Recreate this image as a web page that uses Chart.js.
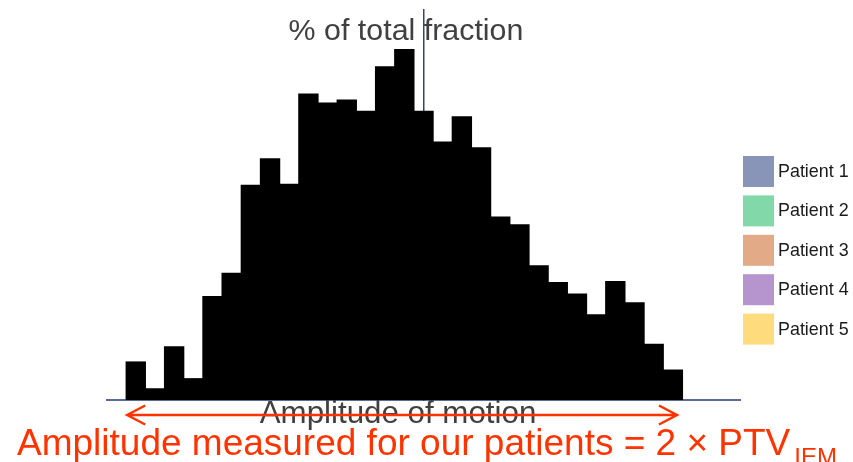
<!DOCTYPE html>
<html>
<head>
<meta charset="utf-8">
<script src="https://cdn.jsdelivr.net/npm/chart.js@4.4.1/dist/chart.umd.min.js"></script>
<style>
html,body{margin:0;padding:0;background:#ffffff;overflow:hidden;}
#c{display:block;}
</style>
</head>
<body>
<canvas id="c" width="853" height="462"></canvas>
<script>
// ---- data ----
const binLabels = ['0','1','2','3','4','5','6','7','8','9','10','11','12','13','14','15','16',
                   '17','18','19','20','21','22','23','24','25','26','27','28','29','30','31','32'];
const totalFraction = [null,
  0.75, 0.22, 1.05, 0.42, 2.04, 2.50, 4.24, 4.76, 4.26, 6.04,
  5.86, 5.92, 5.70, 6.58, 6.92, 5.70, 5.09, 5.59, 4.98, 3.61,
  3.46, 2.65, 2.32, 2.09, 1.68, 2.34, 1.92, 1.10, 0.59,
  null, null, null];
const patientNames = ['Patient 1','Patient 2','Patient 3','Patient 4','Patient 5'];
const patientColors = ['#8895b8','#82d8a8','#e2aa86','#b695cf','#fedc7e'];
const yMax = 7.7;
const centreBin = 16;

const titleText = '% of total fraction';
const xTitleText = 'Amplitude of motion';
const noteText = 'Amplitude measured for our patients = 2 \u00d7 PTV';
const noteSub = 'IEM';

const FONT = '"Liberation Sans", Arial, sans-serif';

const annot = {
  id: 'annot',
  afterDraw(chart) {
    const ctx = chart.ctx;
    const xs = chart.scales.x;
    const half = (xs.getPixelForValue(1) - xs.getPixelForValue(0)) / 2;
    ctx.save();
    // title
    ctx.fillStyle = '#404040';
    ctx.font = '30.4px ' + FONT;
    ctx.textAlign = 'center';
    ctx.textBaseline = 'alphabetic';
    ctx.fillText(titleText, 406, 40);
    // x title
    ctx.font = '31.3px ' + FONT;
    ctx.fillText(xTitleText, 398, 423);
    // legend
    ctx.textAlign = 'left';
    ctx.textBaseline = 'middle';
    ctx.font = '17.9px ' + FONT;
    chart.data.datasets.slice(1).forEach((ds, i) => {
      const top = 156 + i * 39.4;
      ctx.fillStyle = ds.backgroundColor;
      ctx.fillRect(743, top, 31, 31);
      ctx.fillStyle = '#1a1a1a';
      ctx.fillText(ds.label, 778, top + 16);
    });
    // arrow
    const red = '#ff3300';
    const aL = xs.getPixelForValue(1) - half + 1;
    const aR = xs.getPixelForValue(29) + half - 5.5;
    const ay = 415;
    ctx.strokeStyle = red;
    ctx.lineWidth = 2.5;
    ctx.lineCap = 'butt';
    ctx.beginPath();
    ctx.moveTo(aL, ay); ctx.lineTo(aR, ay);
    ctx.moveTo(aL + 18, ay - 9.5); ctx.lineTo(aL, ay); ctx.lineTo(aL + 18, ay + 9.5);
    ctx.moveTo(aR - 18, ay - 9.5); ctx.lineTo(aR, ay); ctx.lineTo(aR - 18, ay + 9.5);
    ctx.stroke();
    // note
    ctx.fillStyle = red;
    ctx.textBaseline = 'alphabetic';
    ctx.font = '37px ' + FONT;
    ctx.fillText(noteText, 17, 455);
    const w = ctx.measureText(noteText).width;
    ctx.font = '24px ' + FONT;
    ctx.fillText(noteSub, 17 + w + 4, 465);
    ctx.restore();
  }
};

const datasets = [{
  label: 'All patients',
  data: totalFraction,
  backgroundColor: '#000000',
  borderWidth: 0,
  inflateAmount: 0.6,
  barPercentage: 1,
  categoryPercentage: 1,
  grouped: false
}].concat(patientNames.map((name, i) => ({
  label: name,
  data: binLabels.map(() => null),
  backgroundColor: patientColors[i],
  borderWidth: 0,
  barPercentage: 1,
  categoryPercentage: 1,
  grouped: false
})));

new Chart(document.getElementById('c'), {
  type: 'bar',
  data: { labels: binLabels, datasets },
  options: {
    responsive: false,
    animation: false,
    devicePixelRatio: 1,
    layout: { padding: { left: 107, right: 113, top: 10, bottom: 62 } },
    plugins: { legend: { display: false }, title: { display: false }, tooltip: { enabled: false } },
    scales: {
      x: {
        grid: { display: false, drawTicks: false },
        ticks: { display: false },
        border: { display: true, color: '#5b6b96', width: 2 }
      },
      y: {
        min: 0, max: yMax,
        position: { x: centreBin },
        grid: { display: false, drawTicks: false },
        ticks: { display: false },
        border: { display: true, color: '#34447a', width: 1.5 }
      }
    }
  },
  plugins: [annot]
});
</script>
</body>
</html>
